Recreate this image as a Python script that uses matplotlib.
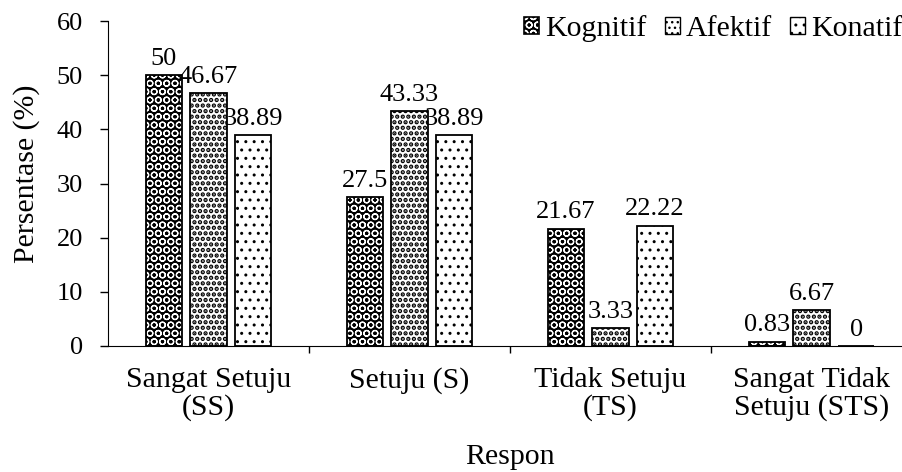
import matplotlib.pyplot as plt
import numpy as np
from matplotlib.patches import Patch

plt.rcParams['font.family'] = ['Liberation Serif', 'DejaVu Serif']

kategori = ['Sangat Setuju\n(SS)', 'Setuju (S)', 'Tidak Setuju\n(TS)', 'Sangat Tidak\nSetuju (STS)']
kognitif = [50, 27.5, 21.67, 0.83]
afektif = [46.67, 43.33, 3.33, 6.67]
konatif = [38.89, 38.89, 22.22, 0]
label_kognitif = ['50', '27.5', '21.67', '0.83']
label_afektif = ['46.67', '43.33', '3.33', '6.67']
label_konatif = ['38.89', '38.89', '22.22', '0']

fig = plt.figure(figsize=(9.02, 4.72), dpi=100)
ax = fig.add_axes([108/902, 126/472, 1 - 108/902, 325/472])

x = np.arange(len(kategori))
w = 0.18
off = 0.222

# kognitif: hitam dengan pola bulat putih
plt.rcParams['hatch.linewidth'] = 0.9
ax.bar(x - off, kognitif, w, color='black', edgecolor='white', hatch='OO', linewidth=0)
ax.bar(x - off, kognitif, w, fill=False, edgecolor='black', linewidth=1.3)
# afektif: titik kotak rapat
plt.rcParams['hatch.linewidth'] = 2.2
ax.bar(x, afektif, w, color='white', edgecolor='black', hatch='...', linewidth=1.3)
# konatif: titik jarang
plt.rcParams['hatch.linewidth'] = 1.0
ax.bar(x + off, konatif, w, color='white', edgecolor='black', hatch='..', linewidth=1.3)

for xs, vals, labs in [(x - off, kognitif, label_kognitif), (x, afektif, label_afektif), (x + off, konatif, label_konatif)]:
    for xi, v, t in zip(xs, vals, labs):
        ax.text(xi, v + 1.9, t, ha='center', va='baseline', fontsize=19)

ax.set_xlim(-0.5, 3.45)
ax.set_ylim(0, 60)
ax.set_yticks(range(0, 61, 10))
ax.set_xticks([0.5, 1.5, 2.5])
ax.set_xticklabels([])
ax.tick_params(axis='x', direction='out', length=5, width=1)
ax.tick_params(axis='y', direction='out', length=6, width=1, labelsize=19, pad=12)
for i, k in enumerate(kategori):
    ax.text(i, -3.8, k, ha='center', va='top', fontsize=21.5, linespacing=1.05)

ax.spines['top'].set_visible(False)
ax.spines['right'].set_visible(False)
fig.text(27/902, 1 - 174/472, 'Persentase (%)', rotation=90, ha='center', va='center', fontsize=21.5)
ax.text(1.5, -20.5, 'Respon', ha='center', va='center', fontsize=21.5)

plt.rcParams['hatch.linewidth'] = 0.9
h1 = Patch(facecolor='black', edgecolor='white', hatch='OO', linewidth=0)
h1b = Patch(fill=False, edgecolor='black', linewidth=1.2)
plt.rcParams['hatch.linewidth'] = 2.2
h2 = Patch(facecolor='white', edgecolor='black', hatch='...')
plt.rcParams['hatch.linewidth'] = 1.0
h3 = Patch(facecolor='white', edgecolor='black', hatch='..')
fig.legend([(h1, h1b), h2, h3], ['Kognitif', 'Afektif', 'Konatif'], ncol=3, frameon=False, fontsize=21.5,
           loc='center right', bbox_to_anchor=(1.0, 1 - 29/472), handlelength=0.5, handleheight=0.5,
           handletextpad=0.2, columnspacing=0.6, borderpad=0, borderaxespad=0)

fig.savefig('out.png', dpi=100)
